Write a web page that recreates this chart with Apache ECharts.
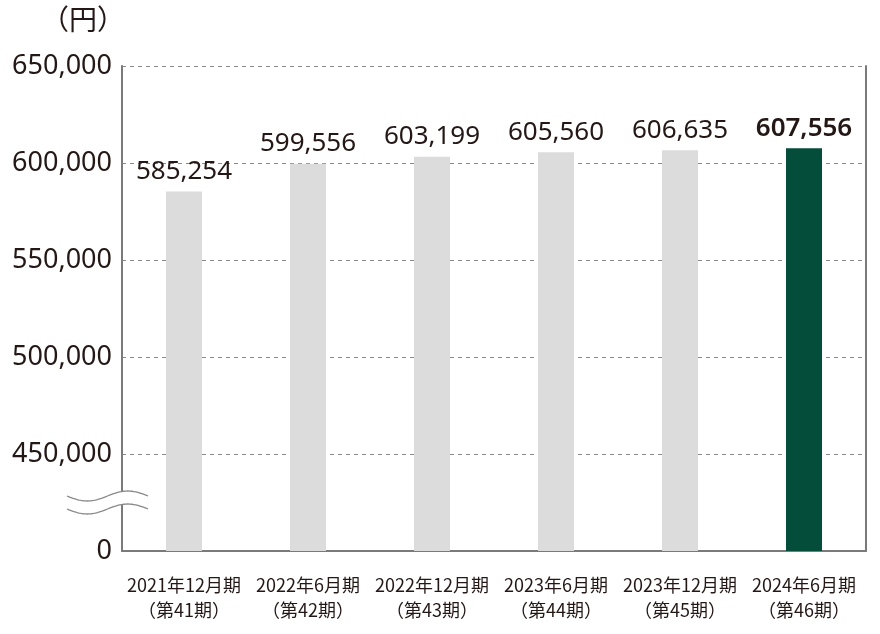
<!DOCTYPE html>
<html><head><meta charset="utf-8">
<script src="https://cdn.jsdelivr.net/npm/echarts@6/dist/echarts.min.js"></script>
<style>html,body{margin:0;padding:0;background:#fff}#c{width:880px;height:634px}</style>
</head><body><div id="c"></div>
<script>
const categories = ['2021年12月期\n（第41期）','2022年6月期\n（第42期）','2022年12月期\n（第43期）','2023年6月期\n（第44期）','2023年12月期\n（第45期）','2024年6月期\n（第46期）'];
const values = [585254, 599556, 603199, 605560, 606635, 607556];
const barColors = ['#dcdcdc','#dcdcdc','#dcdcdc','#dcdcdc','#dcdcdc','#054d3b'];
const axisMin = 400000, axisMax = 650000, axisStep = 50000;
const unitLabel = '（円）';

function fmt(v){ return String(v).replace(/\B(?=(\d{3})+(?!\d))/g, ','); }
const textColor = '#231815';
const chart = echarts.init(document.getElementById('c'), null, {renderer:'canvas'});
chart.setOption({
  animation:false,
  grid:{left:122,right:14,top:66,bottom:83},
  title:{text:unitLabel,left:36,top:0,textStyle:{fontFamily:'Noto Sans CJK JP',fontSize:28,fontWeight:'normal',color:textColor}},
  xAxis:{type:'category',data:categories,
    axisLine:{lineStyle:{color:'#7a7a7a',width:2}},axisTick:{show:false},
    axisLabel:{fontFamily:'Noto Sans CJK JP',fontSize:18,color:textColor,lineHeight:25,margin:22,interval:0}},
  yAxis:[{type:'value',min:axisMin,max:axisMax,interval:axisStep,
    axisLine:{show:true,lineStyle:{color:'#7a7a7a',width:2}},axisTick:{show:false},
    splitLine:{lineStyle:{color:'#8a8a8a',type:[4,4],width:1}},
    axisLabel:{fontFamily:'Noto Sans',fontSize:27,color:textColor,margin:10,
      formatter:v=> v===axisMin ? '0' : fmt(v)}},
    {type:'value',min:axisMin,max:axisMax,interval:axisStep,position:'right',
    axisLine:{show:true,lineStyle:{color:'#7a7a7a',width:2}},axisTick:{show:false},axisLabel:{show:false},splitLine:{show:false}}],
  series:[{type:'bar',barWidth:36,data:values.map((v,i)=>({value:v,itemStyle:{color:barColors[i]},
    label:{fontWeight:i===values.length-1?600:'normal'}})),
    label:{show:true,position:'top',distance:7,fontFamily:'Noto Sans',fontSize:26,color:textColor,formatter:p=>fmt(p.value)}}]
});
// axis break marker
const yc = chart.convertToPixel({yAxisIndex:0}, axisMin + axisStep/2);
const x0 = 67, x1 = 148, A = 5, gap = 13;
const up = [], lo = [];
for(let i=0;i<=40;i++){const t=i/40;const x=x0+(x1-x0)*t;const d=A*Math.sin(2*Math.PI*t);up.push([x,yc-gap/2+d]);lo.push([x,yc+gap/2+d]);}
chart.setOption({graphic:[
  {type:'polygon',shape:{points:up.concat(lo.slice().reverse())},style:{fill:'#fff'},z:100},
  {type:'polyline',shape:{points:up},style:{stroke:'#8a8a8a',lineWidth:1.3,fill:null},z:101},
  {type:'polyline',shape:{points:lo},style:{stroke:'#8a8a8a',lineWidth:1.3,fill:null},z:101}
]});
</script></body></html>
